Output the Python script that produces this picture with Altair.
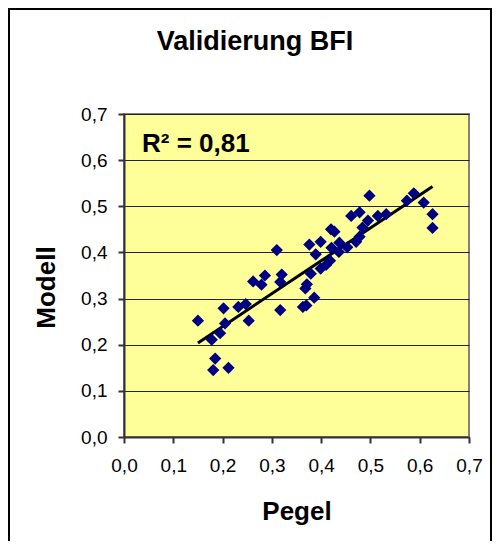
import altair as alt
import pandas as pd

# Values
pegel = [0.150, 0.178, 0.185, 0.181, 0.212, 0.195, 0.202, 0.205, 0.232, 0.247,
         0.253, 0.262, 0.279, 0.286, 0.310, 0.317, 0.320, 0.317, 0.363, 0.370,
         0.368, 0.371, 0.376, 0.379, 0.386, 0.389, 0.399, 0.399, 0.410, 0.418,
         0.420, 0.427, 0.421, 0.437, 0.436, 0.453, 0.461, 0.471, 0.478, 0.478,
         0.484, 0.495, 0.498, 0.515, 0.532, 0.574, 0.588, 0.608, 0.626, 0.626]
modell = [0.252, 0.211, 0.170, 0.145, 0.150, 0.225, 0.279, 0.246, 0.282, 0.288,
          0.252, 0.337, 0.330, 0.350, 0.405, 0.275, 0.352, 0.336, 0.282, 0.285,
          0.322, 0.331, 0.417, 0.354, 0.302, 0.396, 0.423, 0.365, 0.373, 0.382,
          0.450, 0.445, 0.410, 0.421, 0.401, 0.411, 0.479, 0.423, 0.434, 0.487,
          0.454, 0.469, 0.523, 0.479, 0.483, 0.512, 0.528, 0.508, 0.483, 0.453]
x_ticks = [0.0, 0.1, 0.2, 0.3, 0.4, 0.5, 0.6, 0.7]
y_ticks = [0.0, 0.1, 0.2, 0.3, 0.4, 0.5, 0.6, 0.7]
r_squared = "0,81"
title_text = "Validierung BFI"
x_title = "Pegel"
y_title = "Modell"

df = pd.DataFrame({"pegel": pegel, "modell": modell})

FONT = "Liberation Sans"
label_expr = "replace(format(datum.value, '.1f'), '.', ',')"

x_enc = alt.X("pegel:Q", scale=alt.Scale(domain=[0, 0.7], nice=False),
              axis=alt.Axis(values=x_ticks, labelExpr=label_expr, grid=False,
                            title=x_title, titleX=172.5, titleY=82,
                            titleBaseline="alphabetic", titleAlign="center",
                            titleFontSize=26, titleFontWeight="bold",
                            labelFontSize=19, labelPadding=13, tickSize=6,
                            labelBaseline="top"))
y_enc = alt.Y("modell:Q", scale=alt.Scale(domain=[0, 0.7], nice=False),
              axis=alt.Axis(values=y_ticks, labelExpr=label_expr, grid=True,
                            title=y_title, titleX=-70, titleY=173,
                            titleAngle=-90, titleBaseline="alphabetic",
                            titleAlign="center",
                            titleFontSize=26, titleFontWeight="bold",
                            labelFontSize=19, labelPadding=11, tickSize=6))

base = alt.Chart(df)

points = base.mark_point(shape="diamond", filled=True, size=150,
                         color="#000080", opacity=1).encode(x=x_enc, y=y_enc)

trend = base.transform_regression("pegel", "modell").mark_line(
    color="black", strokeWidth=3).encode(x="pegel:Q", y="modell:Q")

r2 = alt.Chart(pd.DataFrame({"t": ["R\u00b2 = " + r_squared]})).mark_text(
    align="left", baseline="alphabetic", fontSize=26, fontWeight="bold",
    font=FONT, color="black").encode(
    text="t:N", x=alt.value(18), y=alt.value(38))

title = alt.Chart(pd.DataFrame({"t": [title_text]})).mark_text(
    align="center", baseline="alphabetic", fontSize=27, fontWeight="bold",
    font=FONT, color="black").encode(
    text="t:N", x=alt.value(131), y=alt.value(-64))

border = alt.Chart(pd.DataFrame({"a": [0]})).mark_rect(
    fill=None, stroke="black", strokeWidth=2).encode(
    x=alt.value(-115), x2=alt.value(367), y=alt.value(-105), y2=alt.value(600))

chart = alt.layer(border, trend, points, r2, title).properties(
    width=345, height=323,
    autosize=alt.AutoSizeParams(type="none"),
    padding={"left": 116, "top": 106, "right": 23, "bottom": 104},
    background="white",
).configure_view(
    fill="#FFFF99", stroke="#808080", strokeWidth=2
).configure_axis(
    labelFont=FONT, titleFont=FONT, labelColor="black", titleColor="black",
    domainColor="#333333", domainWidth=2, tickColor="#333333", tickWidth=2,
    gridColor="#222222", gridWidth=1, gridOpacity=1, labelFlush=False
)

chart.save("out.html", embed_options={"renderer": "svg", "actions": False})
